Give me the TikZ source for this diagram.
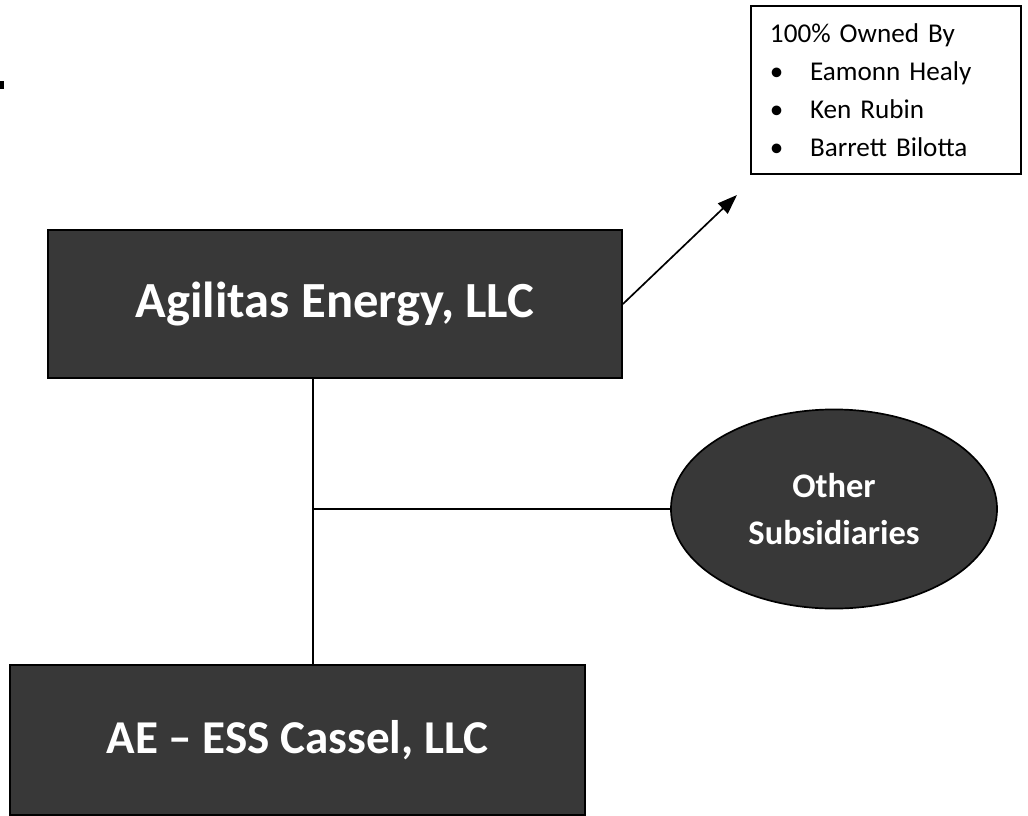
\documentclass[tikz,border=0pt]{standalone}
\usepackage{fontspec}
\setmainfont{Carlito}
\usetikzlibrary{shapes.geometric,arrows.meta}

\begin{document}
\begin{tikzpicture}[
    x=0.025cm, y=-0.025cm,
    company/.style={rectangle, draw=black, fill=black!78, text=white,
      line width=1.2pt, inner sep=0pt,
      font=\bfseries\fontsize{36}{42}\selectfont},
    other/.style={ellipse, draw=black, fill=black!78, text=white,
      line width=1.2pt, inner sep=0pt, align=center,
      minimum width=231.9pt, minimum height=141.6pt,
      font=\bfseries\fontsize{24.5}{33}\selectfont},
    owners/.style={rectangle, draw=black, line width=1pt, align=left,
      inner xsep=13.5pt, inner ysep=0pt, text width=165pt,
      minimum height=119.5pt, font=\fontsize{19.3}{27}\selectfont},
    link/.style={line width=1.2pt}
  ]
  % page
  \useasboundingbox (0, 0) rectangle (1028, 816);

  % scan mark
  \fill [black] (0, 81) rectangle (4, 89);

  % Parent company
  \node [company, minimum width=408.3pt, minimum height=105.3pt] (agilitas)
    at (335, 304) {Agilitas Energy, LLC};

  % Project company
  \node [company, minimum width=409pt, minimum height=106.7pt,
    font=\bfseries\fontsize{33.5}{40}\selectfont] (cassel)
    at (297.5, 740) {AE -- ESS Cassel, LLC};

  % Other subsidiaries
  \node [other] (others) at (834, 509) {Other\\Subsidiaries};

  % Ownership
  \node [owners] (owners) at (886, 90) {100\% Owned By\\
    \makebox[28.5pt][l]{\textbullet}Eamonn Healy\\
    \makebox[28.5pt][l]{\textbullet}Ken Rubin\\
    \makebox[28.5pt][l]{\textbullet}Barrett Bilotta};

  % Connectors
  \coordinate (branch) at (313, 509);
  \coordinate (tip) at (737, 195);
  \draw [link] (branch |- agilitas.south) -- (branch |- cassel.north);
  \draw [link] (branch) -- (others.west);
  \draw [link, -{Triangle[length=14pt, width=10pt]}] (agilitas.east) -- (tip);
\end{tikzpicture}
\end{document}
